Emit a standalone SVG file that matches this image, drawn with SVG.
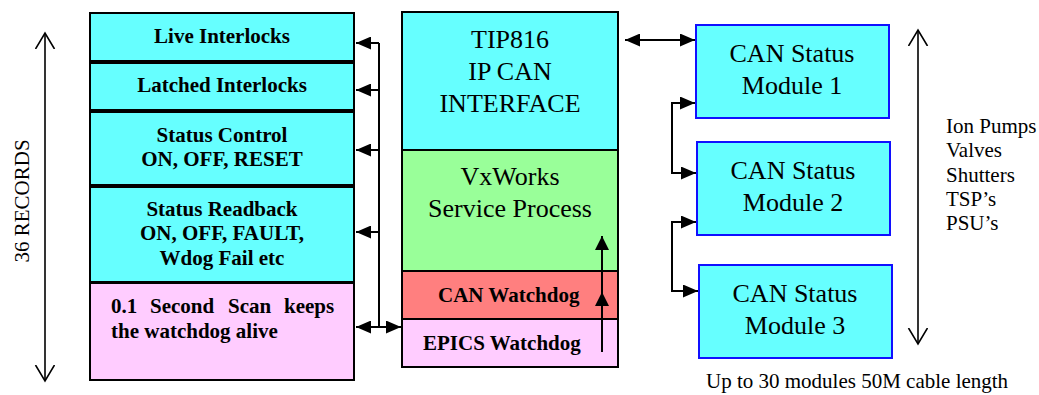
<svg xmlns="http://www.w3.org/2000/svg" width="1039" height="395" viewBox="0 0 1039 395">
<style>
.box{stroke:#000;stroke-width:2}
.mod{fill:#66FFFF;stroke:#1010FF;stroke-width:2}
.cyan{fill:#66FFFF}
.pink{fill:#FFCCFF}
.green{fill:#99FF99}
.red{fill:#FF7F7F}
.b{font-family:'Liberation Serif','Times New Roman',Times,'Nimbus Roman','DejaVu Serif',serif;font-weight:bold;font-size:21px;fill:#000}
.r{font-family:'Liberation Serif','Times New Roman',Times,'Nimbus Roman','DejaVu Serif',serif;font-size:21px;fill:#000}
.big{font-family:'Liberation Serif','Times New Roman',Times,'Nimbus Roman','DejaVu Serif',serif;font-size:26px;fill:#000}
.c{text-anchor:middle}
.ln{stroke:#000;stroke-width:2;fill:none}
.thin{stroke:#000;stroke-width:1.6;fill:none}
</style>
<defs>
<marker id="arr" markerUnits="userSpaceOnUse" markerWidth="16" markerHeight="13" refX="15" refY="6.5" orient="auto-start-reverse" viewBox="0 0 16 13">
<path d="M0,0 L15,6.5 L0,13 z" fill="#000"/>
</marker>
<marker id="arr2" markerUnits="userSpaceOnUse" markerWidth="15" markerHeight="15" refX="14" refY="7" orient="auto" viewBox="0 0 15 15">
<path d="M0,0 L14,7 L0,14 z" fill="#000"/>
</marker>
<marker id="open" markerUnits="userSpaceOnUse" markerWidth="20" markerHeight="22" refX="16" refY="10" orient="auto-start-reverse" viewBox="0 0 20 22">
<path d="M0,0.5 L16,10 L0,19.5" fill="none" stroke="#000" stroke-width="1.6"/>
</marker>
</defs>

<g id="records-axis">
<line class="thin" x1="45" y1="33" x2="45" y2="381" marker-start="url(#open)" marker-end="url(#open)"/>
<text class="r c" transform="translate(29,201) rotate(-90)" x="0" y="0">36 RECORDS</text>
</g>

<g id="live-interlocks">
<rect class="box cyan" x="90" y="13" width="264" height="48"/>
<text class="b c" x="222" y="43">Live Interlocks</text>
</g>
<g id="latched-interlocks">
<rect class="box cyan" x="90" y="63" width="264" height="47"/>
<text class="b c" x="222" y="92">Latched Interlocks</text>
</g>
<g id="status-control">
<rect class="box cyan" x="90" y="112" width="264" height="73"/>
<text class="b c" x="222" y="142">Status Control</text>
<text class="b c" x="222" y="166">ON, OFF, RESET</text>
</g>
<g id="status-readback">
<rect class="box cyan" x="90" y="187" width="264" height="95"/>
<text class="b c" x="222" y="216">Status Readback</text>
<text class="b c" x="222" y="240">ON, OFF, FAULT,</text>
<text class="b c" x="222" y="265">Wdog Fail etc</text>
</g>
<g id="scan">
<rect class="box pink" x="90" y="283" width="264" height="97"/>
<text class="b" y="313"><tspan x="111">0.1</tspan><tspan x="150">Second</tspan><tspan x="228">Scan</tspan><tspan x="284">keeps</tspan></text>
<text class="b" x="111" y="338">the watchdog alive</text>
</g>

<g id="tip816">
<rect class="box cyan" x="402" y="12" width="216" height="138"/>
<text class="big c" x="510" y="48">TIP816</text>
<text class="big c" x="510" y="80">IP CAN</text>
<text class="big c" x="510" y="112">INTERFACE</text>
</g>
<g id="vxworks">
<rect class="box green" x="402" y="150" width="216" height="121"/>
<text class="big c" x="510" y="185">VxWorks</text>
<text class="big c" x="510" y="217">Service Process</text>
</g>
<g id="can-watchdog">
<rect class="box red" x="402" y="271" width="216" height="48"/>
<text class="b" x="438" y="302">CAN Watchdog</text>
</g>
<g id="epics-watchdog">
<rect class="box pink" x="402" y="319" width="216" height="48"/>
<text class="b" x="423" y="350">EPICS Watchdog</text>
</g>

<g id="module1">
<rect class="mod" x="696" y="25" width="193" height="93"/>
<text class="big c" x="792" y="62">CAN Status</text>
<text class="big c" x="792" y="94">Module 1</text>
</g>
<g id="module2">
<rect class="mod" x="697" y="142" width="193" height="93"/>
<text class="big c" x="793" y="179">CAN Status</text>
<text class="big c" x="793" y="211">Module 2</text>
</g>
<g id="module3">
<rect class="mod" x="699" y="265" width="193" height="93"/>
<text class="big c" x="795" y="302">CAN Status</text>
<text class="big c" x="795" y="334">Module 3</text>
</g>

<g id="devices">
<line class="thin" x1="918" y1="30" x2="918" y2="344" marker-start="url(#open)" marker-end="url(#open)"/>
<text class="r" x="946" y="133">Ion Pumps</text>
<text class="r" x="946" y="157">Valves</text>
<text class="r" x="946" y="182">Shutters</text>
<text class="r" x="946" y="206">TSP’s</text>
<text class="r" x="946" y="230">PSU’s</text>
<text class="r" x="706" y="388">Up to 30 modules 50M cable length</text>
</g>

<g id="connectors">
<line class="ln" x1="379" y1="43" x2="379" y2="327"/>
<line class="ln" x1="379" y1="43" x2="356" y2="43" marker-end="url(#arr)"/>
<line class="ln" x1="379" y1="90" x2="356" y2="90" marker-end="url(#arr)"/>
<line class="ln" x1="379" y1="150" x2="356" y2="150" marker-end="url(#arr)"/>
<line class="ln" x1="379" y1="232" x2="356" y2="232" marker-end="url(#arr)"/>
<line class="ln" x1="356" y1="327" x2="401" y2="327" marker-start="url(#arr)" marker-end="url(#arr)"/>
<line class="ln" x1="625" y1="40" x2="695" y2="40" marker-start="url(#arr)" marker-end="url(#arr)"/>
<polyline class="ln" points="695,103 672,103 672,173 696,173" marker-start="url(#arr)" marker-end="url(#arr)"/>
<polyline class="ln" points="696,222 672,222 672,291 698,291" marker-start="url(#arr)" marker-end="url(#arr)"/>
<line class="ln" x1="602" y1="352" x2="602" y2="292" marker-end="url(#arr2)"/>
<line class="ln" x1="602" y1="292" x2="602" y2="236" marker-end="url(#arr2)"/>
</g>
</svg>
